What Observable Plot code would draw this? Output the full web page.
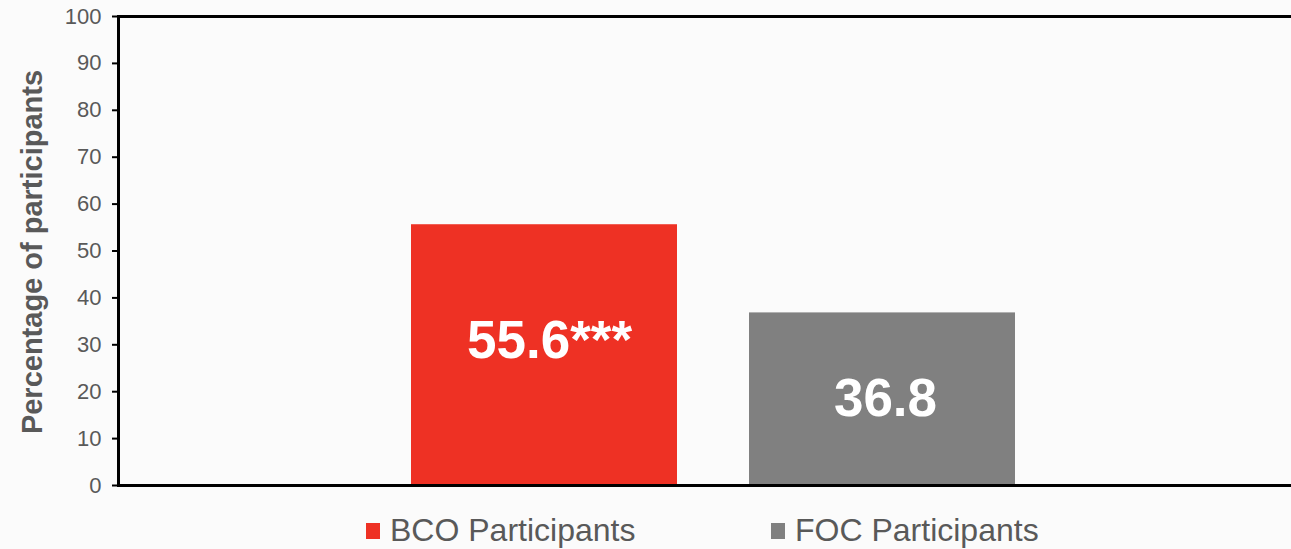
<!DOCTYPE html>
<html>
<head>
<meta charset="utf-8">
<script src="https://cdn.jsdelivr.net/npm/d3@7"></script>
<script src="https://cdn.jsdelivr.net/npm/@observablehq/plot@0.6"></script>
<style>
  html, body { margin: 0; padding: 0; background: #fbfbfb; }
  #chart { width: 1291px; position: relative; }
  .legend { position: relative; height: 49px;
            font-family: "Liberation Sans", Arial, sans-serif; font-size: 32px; color: #595959; }
  .item { position: absolute; top: 12px; display: flex; align-items: center; white-space: nowrap; }
  .sw { width: 14px; height: 16px; margin-right: 10px; display: inline-block; }
</style>
</head>
<body>
<div id="chart"></div>
<script>
const categories = ["BCO Participants", "FOC Participants"];
const values = [55.6, 36.8];
const labels = ["55.6***", "36.8"];
const colors = ["#EE3124", "#808080"];
const yTicks = [0, 10, 20, 30, 40, 50, 60, 70, 80, 90, 100];
const yTitle = "Percentage of participants";

const data = categories.map((c, i) => ({ cat: c, value: values[i], label: labels[i], color: colors[i] }));
const font = "'Liberation Sans', Arial, sans-serif";

const plot = Plot.plot({
  width: 1291,
  height: 500,
  marginTop: 16,
  marginBottom: 15,
  marginLeft: 118,
  marginRight: 0,
  style: { background: "transparent", fontFamily: font },
  x: { domain: categories, paddingInner: 0.213, paddingOuter: 0.8417, align: 0.515, axis: null },
  y: { domain: [0, 100], axis: null },
  marks: [
    Plot.barY(data, { x: "cat", y: "value", fill: "color" }),
    Plot.text(data.filter((d, i) => i === 0), { x: "cat", y: d => d.value / 2, text: "label", fill: "white", fontSize: 53, fontWeight: "bold", dx: 5, dy: -14 }),
    Plot.text(data.filter((d, i) => i === 1), { x: "cat", y: d => d.value / 2, text: "label", fill: "white", fontSize: 53, fontWeight: "bold", dx: 3, dy: 0 }),
    Plot.axisY({ ticks: yTicks, tickSize: 6, tickPadding: 11, strokeWidth: 2, stroke: "black", fill: "#595959", fontSize: 22, label: null }),
    Plot.ruleY([0, 100], { stroke: "black", strokeWidth: 3 }),
    Plot.frame({ anchor: "left", stroke: "black", strokeWidth: 3 }),
    Plot.text([yTitle], { frameAnchor: "left", textAnchor: "middle", rotate: -90, dx: -86, dy: 1, fontSize: 29, fontWeight: "bold", fill: "#595959" })
  ]
});
document.getElementById("chart").appendChild(plot);

const legendLeft = [366, 771];
const legend = document.createElement("div");
legend.className = "legend";
categories.forEach((c, i) => {
  const item = document.createElement("div");
  item.className = "item";
  item.style.left = legendLeft[i] + "px";
  const sw = document.createElement("span");
  sw.className = "sw";
  sw.style.background = colors[i];
  item.appendChild(sw);
  item.appendChild(document.createTextNode(c));
  legend.appendChild(item);
});
document.getElementById("chart").appendChild(legend);
</script>
</body>
</html>
